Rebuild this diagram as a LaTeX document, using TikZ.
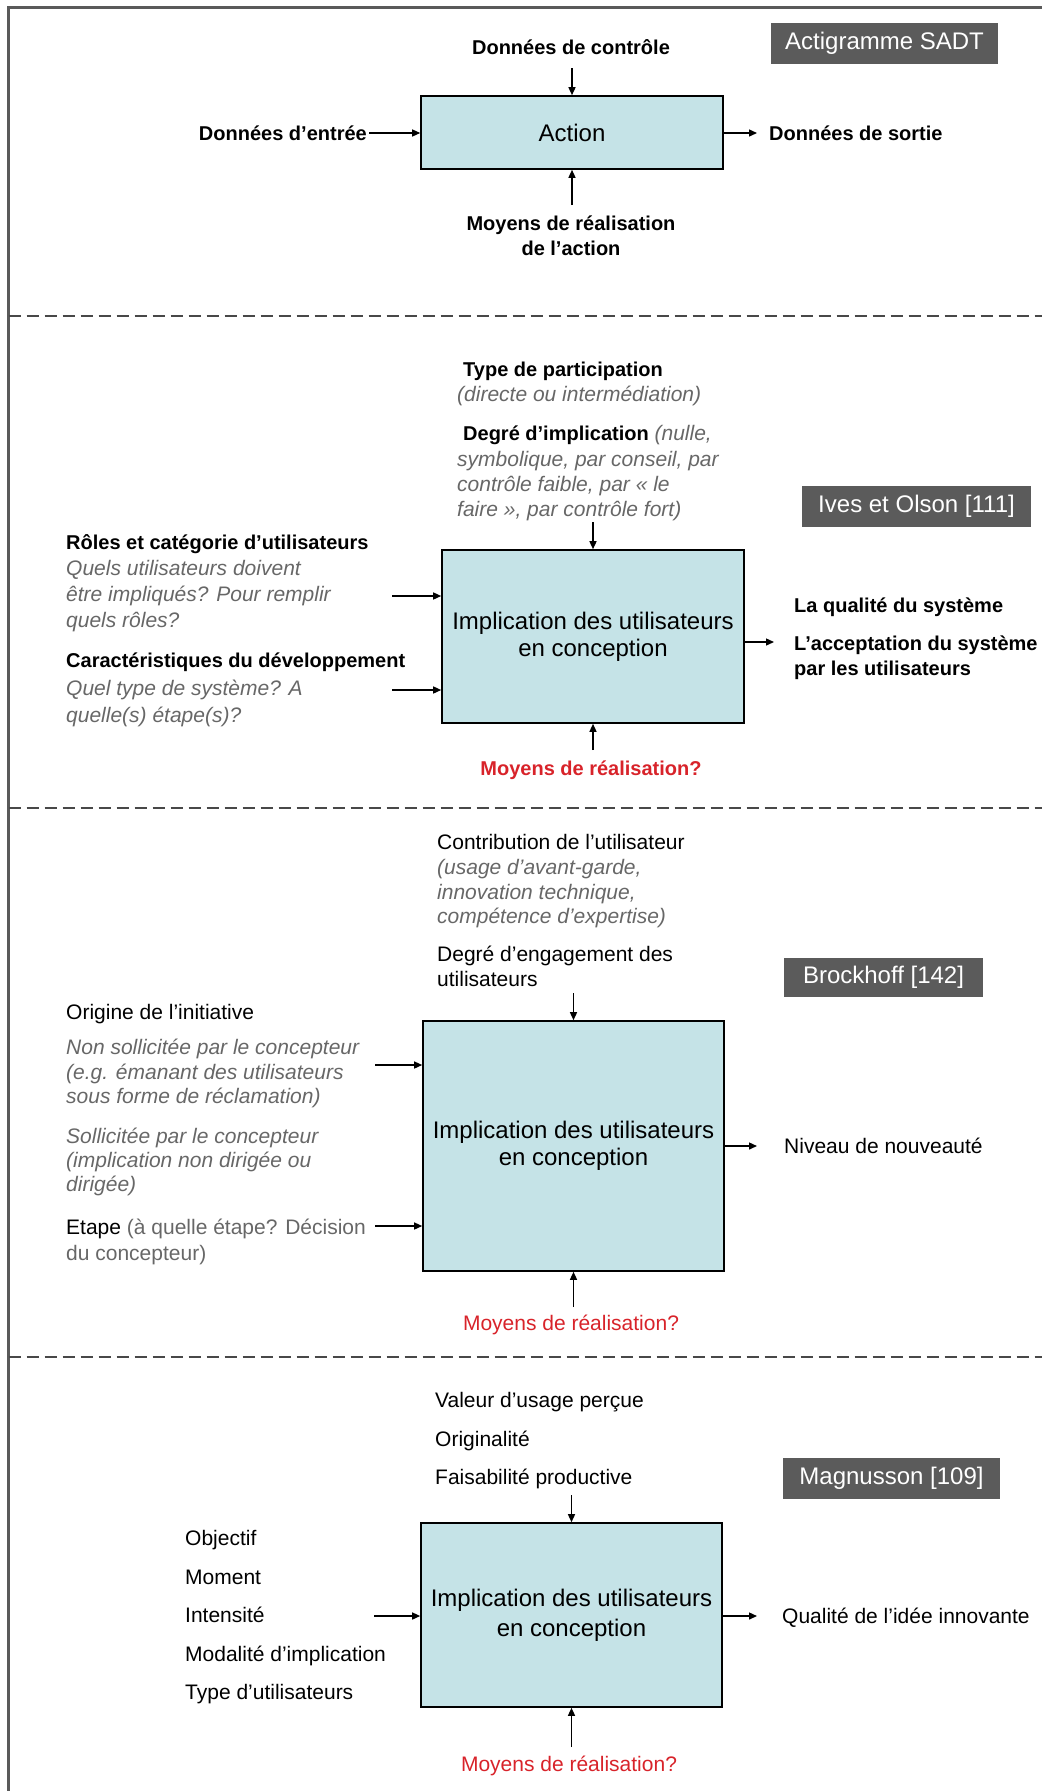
\documentclass[tikz,border=0pt]{standalone}
\usepackage{fontspec}
\setmainfont{Liberation Sans}
\usetikzlibrary{arrows.meta}
\definecolor{boxblue}{HTML}{C5E3E7}
\definecolor{tagfill}{HTML}{5B5B5B}
\definecolor{txtgray}{HTML}{676767}
\definecolor{txtred}{HTML}{D8232A}
\definecolor{framegray}{HTML}{5A5A5A}
\newcommand{\gi}[1]{{\color{txtgray}\itshape #1}}
\newcommand{\fst}{\vrule height 17.5pt depth 0pt width 0pt\relax}
\tikzset{
  sbox/.style={draw=black, line width=1.6pt, fill=boxblue, inner sep=0pt, align=center, font=\fontsize{24}{27}\selectfont},
  tagbox/.style={fill=tagfill, text=white, inner sep=0pt, font=\fontsize{24}{27}\selectfont},
  lbl/.style={inner sep=0pt, align=left, anchor=north west},
  cl/.style={inner sep=0pt, align=center, anchor=north},
  bf20/.style={font=\fontsize{20}{25}\selectfont\bfseries},
  rg21/.style={font=\fontsize{21}{25}\selectfont},
  arr/.style={line width=1.4pt, -{Triangle[length=8pt,width=7pt]}},
  sep/.style={line width=2pt, color=framegray!80!black, dash pattern=on 12pt off 6pt}
}
\begin{document}
\begin{tikzpicture}[x=1pt,y=-1pt]
\useasboundingbox (0,0) rectangle (1042,1791);
% frame
\draw[line width=2.6pt, framegray] (8.5,1791) -- (8.5,7.5) -- (1042,7.5);
% separators
\coordinate (s1a) at (8.5,316); \coordinate (s1b) at (1042,316);
\coordinate (s2a) at (8.5,808); \coordinate (s2b) at (1042,808);
\coordinate (s3a) at (8.5,1357); \coordinate (s3b) at (1042,1357);
\draw[sep] (s1a) -- (s1b);
\draw[sep] (s2a) -- (s2b);
\draw[sep] (s3a) -- (s3b);

% ===== Section 1 =====
\node[sbox, minimum width=302pt, minimum height=73pt] (b1) at (572,132.5) {Action};
\node[tagbox, minimum width=227pt, minimum height=41pt] (tag1) at (884.5,43.5) {Actigramme SADT};
\node[cl, bf20] (ctl1) at (571,37) {\fst Données de contrôle};
\node[lbl, bf20, anchor=north east] (ent1) at (367,123) {\fst Données d’entrée};
\node[lbl, bf20] (sor1) at (769,123) {\fst Données de sortie};
\node[cl, bf20] (moy1) at (571,213) {\fst Moyens de réalisation\\de l’action};
\coordinate (c1t) at (572,68);
\coordinate (c1l) at (369,133);
\coordinate (c1r) at (757,133);
\coordinate (c1b) at (572,205);
\draw[arr] (c1t) -- (b1.north);
\draw[arr] (c1l) -- (c1l -| b1.west);
\draw[arr] (c1r -| b1.east) -- (c1r);
\draw[arr] (c1b) -- (b1.south);

% ===== Section 2 =====
\node[sbox, minimum width=302pt, minimum height=173pt, font=\fontsize{24}{27.3}\selectfont] (b2) at (593,636.5) {Implication des utilisateurs\\en conception};
\node[tagbox, minimum width=229pt, minimum height=41pt] (tag2) at (916.5,506.5) {Ives et Olson [111]};
\node[lbl, font=\fontsize{21}{25}\selectfont] (t2a) at (457,359) {\fst\hspace*{6pt}{\fontsize{20}{25}\selectfont\bfseries Type de participation}\\\gi{(directe ou intermédiation)}};
\node[lbl, font=\fontsize{21}{25.3}\selectfont] (t2b) at (457,423) {\fst\hspace*{6pt}{\fontsize{20}{25.3}\selectfont\bfseries Degré d’implication} \gi{(nulle,}\\\gi{symbolique, par conseil, par}\\\gi{contrôle faible, par « le}\\\gi{faire », par contrôle fort)}};
\node[lbl, font=\fontsize{21}{26}\selectfont] (l2a) at (66,532) {\fst{\fontsize{20}{26}\selectfont\bfseries Rôles et catégorie d’utilisateurs}\\\gi{Quels utilisateurs doivent}\\\gi{être impliqués? Pour remplir}\\\gi{quels rôles?}};
\node[lbl, font=\fontsize{21}{27.5}\selectfont] (l2b) at (66,650) {\fst{\fontsize{20}{27.5}\selectfont\bfseries Caractéristiques du développement}\\\gi{Quel type de système? A}\\\gi{quelle(s) étape(s)?}};
\node[lbl, bf20] (r2a) at (794,595) {\fst La qualité du système};
\node[lbl, bf20] (r2b) at (794,633) {\fst L’acceptation du système\\par les utilisateurs};
\node[cl, bf20, text=txtred] (m2) at (591,758) {\fst Moyens de réalisation?};
\coordinate (c2t) at (593,522);
\coordinate (c2l1) at (392,596);
\coordinate (c2l2) at (392,690);
\coordinate (c2r) at (774,642);
\coordinate (c2b) at (593,750);
\draw[arr] (c2t) -- (b2.north);
\draw[arr] (c2l1) -- (c2l1 -| b2.west);
\draw[arr] (c2l2) -- (c2l2 -| b2.west);
\draw[arr] (c2r -| b2.east) -- (c2r);
\draw[arr] (c2b) -- (b2.south);

% ===== Section 3 =====
\node[sbox, minimum width=301pt, minimum height=250pt] (b3) at (573.5,1146) {Implication des utilisateurs\\en conception};
\node[tagbox, minimum width=199pt, minimum height=39pt] (tag3) at (883.5,977.5) {Brockhoff [142]};
\node[lbl, font=\fontsize{21}{24.7}\selectfont] (t3a) at (437,832) {\fst Contribution de l’utilisateur\\\gi{(usage d’avant-garde,}\\\gi{innovation technique,}\\\gi{compétence d’expertise)}};
\node[lbl, font=\fontsize{21}{25}\selectfont] (t3b) at (437,944) {\fst Degré d’engagement des\\utilisateurs};
\node[lbl, rg21] (l3a) at (66,1002) {\fst Origine de l’initiative};
\node[lbl, font=\fontsize{21}{24.5}\selectfont] (l3b) at (66,1037) {\fst\gi{Non sollicitée par le concepteur}\\\gi{(e.g. émanant des utilisateurs}\\\gi{sous forme de réclamation)}};
\node[lbl, font=\fontsize{21}{24}\selectfont] (l3c) at (66,1126) {\fst\gi{Sollicitée par le concepteur}\\\gi{(implication non dirigée ou}\\\gi{dirigée)}};
\node[lbl, font=\fontsize{21}{26}\selectfont] (l3d) at (66,1217) {\fst Etape {\color{txtgray}(à quelle étape? Décision}\\{\color{txtgray}du concepteur)}};
\node[lbl, rg21] (r3) at (784,1136) {\fst Niveau de nouveauté};
\node[cl, rg21, text=txtred] (m3) at (571,1313) {\fst Moyens de réalisation?};
\coordinate (c3t) at (573.5,993);
\coordinate (c3l1) at (375,1065);
\coordinate (c3l2) at (375,1226);
\coordinate (c3r) at (757,1146);
\coordinate (c3b) at (573.5,1307);
\draw[arr] (c3t) -- (b3.north);
\draw[arr] (c3l1) -- (c3l1 -| b3.west);
\draw[arr] (c3l2) -- (c3l2 -| b3.west);
\draw[arr] (c3r -| b3.east) -- (c3r);
\draw[arr] (c3b) -- (b3.south);

% ===== Section 4 =====
\node[sbox, minimum width=301pt, minimum height=184pt, font=\fontsize{24}{30}\selectfont] (b4) at (571.5,1615) {Implication des utilisateurs\\en conception};
\node[tagbox, minimum width=217pt, minimum height=41pt] (tag4) at (891.5,1478.5) {Magnusson [109]};
\node[lbl, font=\fontsize{21}{38.5}\selectfont] (t4) at (435,1390) {\fst Valeur d'usage perçue\\Originalité\\Faisabilité productive};
\node[lbl, font=\fontsize{21}{38.5}\selectfont] (l4) at (185,1528) {\fst Objectif\\Moment\\Intensité\\Modalité d’implication\\Type d’utilisateurs};
\node[lbl, rg21] (r4) at (782,1606) {\fst Qualité de l’idée innovante};
\node[cl, rg21, text=txtred] (m4) at (569,1754) {\fst Moyens de réalisation?};
\coordinate (c4t) at (571.5,1495);
\coordinate (c4l) at (374,1616);
\coordinate (c4r) at (757,1616);
\coordinate (c4b) at (571.5,1747);
\draw[arr] (c4t) -- (b4.north);
\draw[arr] (c4l) -- (c4l -| b4.west);
\draw[arr] (c4r -| b4.east) -- (c4r);
\draw[arr] (c4b) -- (b4.south);
\end{tikzpicture}
\end{document}
